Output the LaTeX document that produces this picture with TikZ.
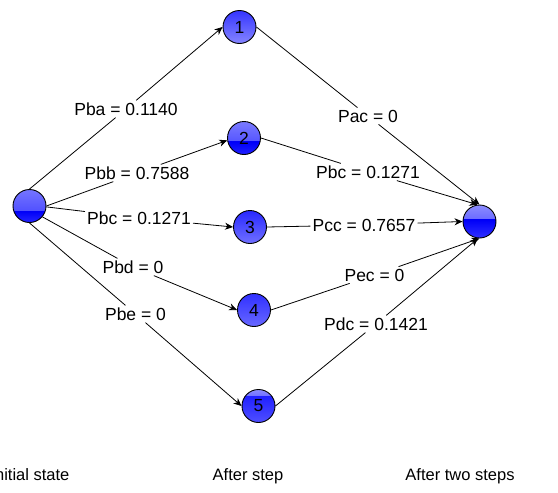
\documentclass[tikz,border=0pt]{standalone}
\usepackage{fontspec}
\setmainfont{Liberation Sans}
\usetikzlibrary{arrows.meta,calc}
\definecolor{aTa}{HTML}{7575FF}\definecolor{aTb}{HTML}{5050FF}\definecolor{aBa}{HTML}{0000F8}\definecolor{aBb}{HTML}{2525FF}
\definecolor{oneT}{HTML}{3535FF}\definecolor{oneB}{HTML}{8585FF}
\definecolor{twoTa}{HTML}{7A7AFF}\definecolor{twoTb}{HTML}{5555FF}\definecolor{twoBb}{HTML}{2020FF}
\definecolor{thrT}{HTML}{2828FF}\definecolor{thrB}{HTML}{7070FF}
\definecolor{fouT}{HTML}{3030FF}\definecolor{fouB}{HTML}{6868FF}
\definecolor{fivTa}{HTML}{8C8CFF}\definecolor{fivTb}{HTML}{7070FF}\definecolor{fivBa}{HTML}{2020FF}\definecolor{fivBb}{HTML}{5050FF}
\definecolor{bTb}{HTML}{6A6AFF}\definecolor{bBb}{HTML}{3030FF}
\newcommand\lblfont{\fontsize{17.5}{20}\selectfont}
\newcommand\capfont{\fontsize{16.5}{19}\selectfont}
\newcommand\ballgrad[2]{\shade[top color=#1,bottom color=#2] (path picture bounding box.north west) rectangle (path picture bounding box.south east);}
\newcommand\ballsplit[5]{%
  \coordinate (ppm) at ($(path picture bounding box.south east)!#5!(path picture bounding box.north east)$);
  \shade[top color=#1,bottom color=#2] (path picture bounding box.north west) rectangle (ppm);
  \shade[top color=#3,bottom color=#4] (path picture bounding box.south west) rectangle (ppm);}
\tikzset{
  ball/.style={circle, draw=black, line width=0.9pt, minimum size=33pt, inner sep=0pt, font=\lblfont},
  lbl/.style={fill=white, inner sep=2pt, font=\lblfont},
  captxt/.style={anchor=base, font=\capfont},
  edge/.style={draw=black, line width=0.8pt},
  arr/.style={edge, -{Stealth[length=8pt,width=7pt,inset=2.5pt]}}
}
\begin{document}
\begin{tikzpicture}[x=1pt,y=1pt]
\useasboundingbox (0,0) rectangle (558,-493);
% state nodes
\node[ball, path picture={\ballsplit{aTa}{aTb}{aBa}{aBb}{0.34}}] (A) at (29.5,-206) {};
\node[ball, path picture={\ballgrad{oneT}{oneB}}] (n1) at (239.5,-27) {1};
\node[ball, path picture={\ballsplit{twoTa}{twoTb}{aBa}{twoBb}{0.38}}] (n2) at (244,-138) {2};
\node[ball, path picture={\ballgrad{thrT}{thrB}}] (n3) at (250,-227) {3};
\node[ball, path picture={\ballgrad{fouT}{fouB}}] (n4) at (254,-310) {4};
\node[ball, path picture={\ballsplit{fivTa}{fivTb}{fivBa}{fivBb}{0.80}}] (n5) at (258.5,-406) {5};
\node[ball, path picture={\ballsplit{fivTa}{bTb}{aBa}{bBb}{0.55}}] (B) at (479.5,-221.5) {};
% edge labels
\node[lbl] (lba) at (126,-109) {Pba = 0.1140};
\node[lbl] (lbb) at (137,-173) {Pbb = 0.7588};
\node[lbl] (lbc) at (139,-218) {Pbc = 0.1271};
\node[lbl] (lbd) at (133,-267) {Pbd = 0};
\node[lbl] (lbe) at (135.5,-314) {Pbe = 0};
\node[lbl] (lac) at (368,-116) {Pac = 0};
\node[lbl] (lbc2) at (368,-172) {Pbc = 0.1271};
\node[lbl] (lcc) at (364,-225) {Pcc = 0.7657};
\node[lbl] (lec) at (374.5,-275) {Pec = 0};
\node[lbl] (ldc) at (376,-324) {Pdc = 0.1421};
% connectors, first step
\draw[arr] (A.north) -- (lba) -- (n1.west);
\draw[arr] (A.east) -- (lbb) -- (n2.188);
\draw[arr] (A.-3) -- (lbc) -- (n3.west);
\draw[arr] (A.-40) -- (lbd) -- (n4.west);
\draw[arr] (A.south) -- (lbe) -- (n5.west);
% connectors, second step
\draw[arr] (n1.east) -- (lac) -- (B.north);
\draw[arr] (n2.east) -- (lbc2) -- (B.97);
\draw[arr] (n3.east) -- (lcc) -- (B.west);
\draw[arr] (n4.east) -- (lec) -- (B.south);
\draw[arr] (n5.east) -- (ldc) -- (B.265);
% captions
\node[captxt] (c1) at (30,-480) {Initial state};
\node[captxt] (c2) at (248,-480) {After step};
\node[captxt] (c3) at (460,-480) {After two steps};
\end{tikzpicture}
\end{document}
